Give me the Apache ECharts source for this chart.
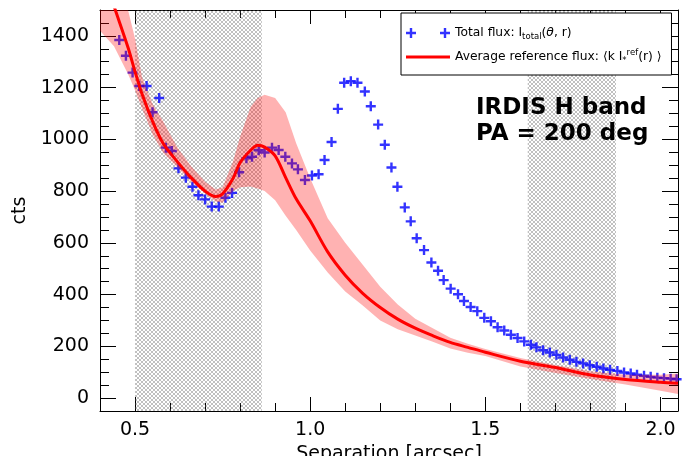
<!DOCTYPE html>
<html><head><meta charset="utf-8">
<script src="https://cdn.jsdelivr.net/npm/echarts@6/dist/echarts.min.js"></script>
<style>html,body{margin:0;padding:0;background:#fff}#c{width:686px;height:456px}</style>
</head><body><div id="c"></div>
<script>
// ---- data ----
const totalSep = [0.455,0.474,0.493,0.512,0.533,0.550,0.569,0.588,0.605,0.624,0.645,0.664,0.681,0.700,0.719,0.739,0.758,0.777,0.797,0.818,0.834,0.853,0.870,0.891,0.910,0.929,0.948,0.965,0.985,1.005,1.024,1.041,1.061,1.079,1.097,1.116,1.135,1.156,1.173,1.194,1.213,1.232,1.249,1.270,1.287,1.304,1.325,1.346,1.365,1.381,1.401,1.422,1.439,1.458,1.477,1.497,1.516,1.535,1.554,1.573,1.592,1.611,1.630,1.646,1.665,1.684,1.703,1.722,1.741,1.760,1.779,1.798,1.818,1.837,1.856,1.877,1.896,1.915,1.933,1.953,1.972,1.991,2.010,2.029,2.046];
const totalFlux = [1384,1323,1258,1206,1206,1105,1160,968,955,888,852,817,784,768,740,740,774,793,873,927,933,958,949,968,959,933,907,884,843,860,865,920,990,1118,1219,1225,1219,1185,1128,1057,979,891,817,737,683,618,572,524,492,456,423,401,375,352,336,310,297,274,261,245,232,219,206,196,185,176,167,157,148,140,134,127,121,114,109,105,99,95,90,86,82,79,77,75,73];

const refSep  = [0.40,0.44,0.48,0.50,0.52,0.55,0.58,0.62,0.66,0.70,0.73,0.75,0.78,0.80,0.83,0.85,0.87,0.90,0.93,0.96,1.00,1.05,1.10,1.15,1.20,1.25,1.30,1.35,1.40,1.45,1.50,1.60,1.70,1.80,1.90,2.00,2.05];
const refMean = [1680,1515,1355,1262,1175,1070,985,915,852,800,779,790,850,910,958,977,970,936,852,770,685,565,475,405,350,305,270,241,215,196,177,142,118,89,72,61,57];
const refLow  = [1420,1360,1253,1190,1120,1020,948,893,837,791,760,755,800,815,818,810,800,765,705,650,570,485,412,358,300,266,242,218,192,175,163,122,97,74,52,28,16];
const refHigh = [1720,1600,1540,1390,1240,1137,1070,970,896,836,806,815,915,1010,1125,1160,1172,1160,1105,985,850,695,600,515,430,362,307,270,233,210,190,155,128,104,90,90,95];

const maskStart = [0.5, 1.621];
const maskEnd   = [0.862, 1.873];

const xMajorTicks = [0.5,1.0,1.5,2.0];
const xMinorTicks = [0.4,0.5,0.6,0.7,0.8,0.9,1.0,1.1,1.2,1.3,1.4,1.5,1.6,1.7,1.8,1.9,2.0];
const yMajorTicks = [0,200,400,600,800,1000,1200,1400];
const yMinorTicks = [-50,0,50,100,150,200,250,300,350,400,450,500,550,600,650,700,750,800,850,900,950,1000,1050,1100,1150,1200,1250,1300,1350,1400,1450,1500];

const seriesNames = ['Total flux', 'Average reference flux'];
const legendLabels = {
  'Total flux': 'Total flux: I{sub|total}({it|θ}, r)',
  'Average reference flux': 'Average reference flux: ⟨k I{sub|*}{sup|ref}(r) ⟩'
};
const annotation = 'IRDIS H band\nPA = 200 deg';
const xTitle = 'Separation [arcsec]';
const yTitle = 'cts';

// ---- styling / layout ----
const F = "'DejaVu Sans', sans-serif";
const X_MIN = 0.4, X_MAX = 2.05, Y_MIN = -50, Y_MAX = 1500;
const BLACK = '#000';

const hatch = document.createElement('canvas');
hatch.width = 4; hatch.height = 4;
(function(){
  const g = hatch.getContext('2d');
  g.fillStyle = 'rgba(90,90,90,0.38)';
  [[0,0],[1,1],[2,2],[3,3],[3,0],[2,1],[1,2],[0,3]].forEach(p => g.fillRect(p[0], p[1], 1, 1));
})();

function xAxisDef(pos, ticks, len, withLabel, withLine) {
  return {
    type: 'value', position: pos, min: X_MIN, max: X_MAX,
    axisLine: {show: withLine, onZero: false, lineStyle: {color: BLACK, width: 1}},
    axisTick: {show: true, inside: true, length: len, customValues: ticks, lineStyle: {color: BLACK, width: 1}},
    axisLabel: withLabel ? {show: true, customValues: xMajorTicks, formatter: v => v.toFixed(1),
      fontSize: 19, color: BLACK, fontFamily: F, margin: 10} : {show: false},
    splitLine: {show: false}
  };
}
function yAxisDef(pos, ticks, len, withLabel, withLine) {
  return {
    type: 'value', position: pos, min: Y_MIN, max: Y_MAX,
    axisLine: {show: withLine, onZero: false, lineStyle: {color: BLACK, width: 1}},
    axisTick: {show: true, inside: true, length: len, customValues: ticks, lineStyle: {color: BLACK, width: 1}},
    axisLabel: withLabel ? {show: true, customValues: yMajorTicks, formatter: v => String(v),
      fontSize: 19, color: BLACK, fontFamily: F, margin: 11} : {show: false},
    splitLine: {show: false}
  };
}

const xAxes = [
  Object.assign(xAxisDef('bottom', xMajorTicks, 14, true, true), {
    name: xTitle, nameLocation: 'middle', nameGap: 29,
    nameTextStyle: {fontSize: 19, color: BLACK, fontFamily: F}
  }),
  xAxisDef('bottom', xMinorTicks, 8, false, false),
  xAxisDef('top', xMajorTicks, 14, false, true),
  xAxisDef('top', xMinorTicks, 8, false, false)
];
const yAxes = [
  Object.assign(yAxisDef('left', yMajorTicks, 16, true, true), {
    name: yTitle, nameLocation: 'middle', nameGap: 62,
    nameTextStyle: {fontSize: 19, color: BLACK, fontFamily: F}
  }),
  yAxisDef('left', yMinorTicks, 9, false, false),
  yAxisDef('right', yMajorTicks, 16, false, true),
  yAxisDef('right', yMinorTicks, 9, false, false)
];

const crossPath = 'path://M3.8,0H6.2V3.8H10V6.2H6.2V10H3.8V6.2H0V3.8H3.8Z';
const crossPairPath = 'path://M3.8,0H6.2V3.8H10V6.2H6.2V10H3.8V6.2H0V3.8H3.8Z M37.8,0H40.2V3.8H44V6.2H40.2V10H37.8V6.2H34V3.8H37.8Z';

const chart = echarts.init(document.getElementById('c'), null, {renderer: 'canvas'});
chart.setOption({
  animation: false,
  backgroundColor: '#fff',
  grid: {left: 100, right: 8, top: 10, bottom: 45, containLabel: false, outerBoundsMode: 'none'},
  xAxis: xAxes,
  yAxis: yAxes,
  legend: {
    left: 401, top: 13, orient: 'vertical',
    padding: [11, 10, 9, 5], itemGap: 6, itemWidth: 44, itemHeight: 10,
    backgroundColor: '#fff', borderColor: BLACK, borderWidth: 1, borderRadius: 0,
    selectedMode: false,
    formatter: name => legendLabels[name],
    textStyle: {
      fontFamily: F, fontSize: 12.3, color: BLACK, lineHeight: 18,
      rich: {
        sub: {fontFamily: F, fontSize: 8.5, lineHeight: 10, padding: [8, 0, 0, 0], color: BLACK},
        sup: {fontFamily: F, fontSize: 8.5, lineHeight: 10, padding: [0, 0, 8, 0], color: BLACK},
        it: {fontFamily: F, fontSize: 12.3, fontStyle: 'italic', color: BLACK}
      }
    },
    data: [
      {name: seriesNames[0], icon: crossPairPath},
      {name: seriesNames[1], icon: 'path://M0,0H44V3H0Z'}
    ]
  },
  graphic: [{
    type: 'text', left: 476, top: 95, z: 100,
    style: {text: annotation, font: 'bold 23px ' + F, fill: BLACK, lineHeight: 26}
  }],
  series: [
    {
      name: 'masked', type: 'line', data: [], z: 1, silent: true, symbol: 'none',
      markArea: {
        silent: true,
        itemStyle: {color: {image: hatch, repeat: 'repeat'}},
        data: maskStart.map((s, i) => [{xAxis: s}, {xAxis: maskEnd[i]}])
      }
    },
    {
      name: seriesNames[0], type: 'scatter', z: 2,
      symbol: crossPath, symbolSize: 10,
      itemStyle: {color: '#0000ff'},
      data: totalSep.map((x, i) => [x, totalFlux[i]])
    },
    {
      name: 'band', type: 'custom', z: 3, silent: true,
      data: refSep.map((x, i) => [x, refLow[i], refHigh[i]]),
      encode: {x: 0, y: [1, 2]},
      renderItem: function (params, api) {
        if (params.dataIndex !== 0) return;
        const pts = [];
        for (let i = 0; i < refSep.length; i++) pts.push(api.coord([refSep[i], refHigh[i]]));
        for (let i = refSep.length - 1; i >= 0; i--) pts.push(api.coord([refSep[i], refLow[i]]));
        const cs = params.coordSys;
        return {
          type: 'polygon',
          shape: {points: echarts.graphic.clipPointsByRect(pts, {x: cs.x, y: cs.y, width: cs.width, height: cs.height})},
          style: {fill: 'rgba(255,0,0,0.3)'}
        };
      }
    },
    {
      name: seriesNames[1], type: 'line', z: 4,
      symbol: 'none', showSymbol: false, smooth: 0.3,
      itemStyle: {color: '#ff0000'},
      lineStyle: {color: '#ff0000', width: 3},
      data: refSep.map((x, i) => [x, refMean[i]])
    }
  ]
});
</script>
</body></html>
